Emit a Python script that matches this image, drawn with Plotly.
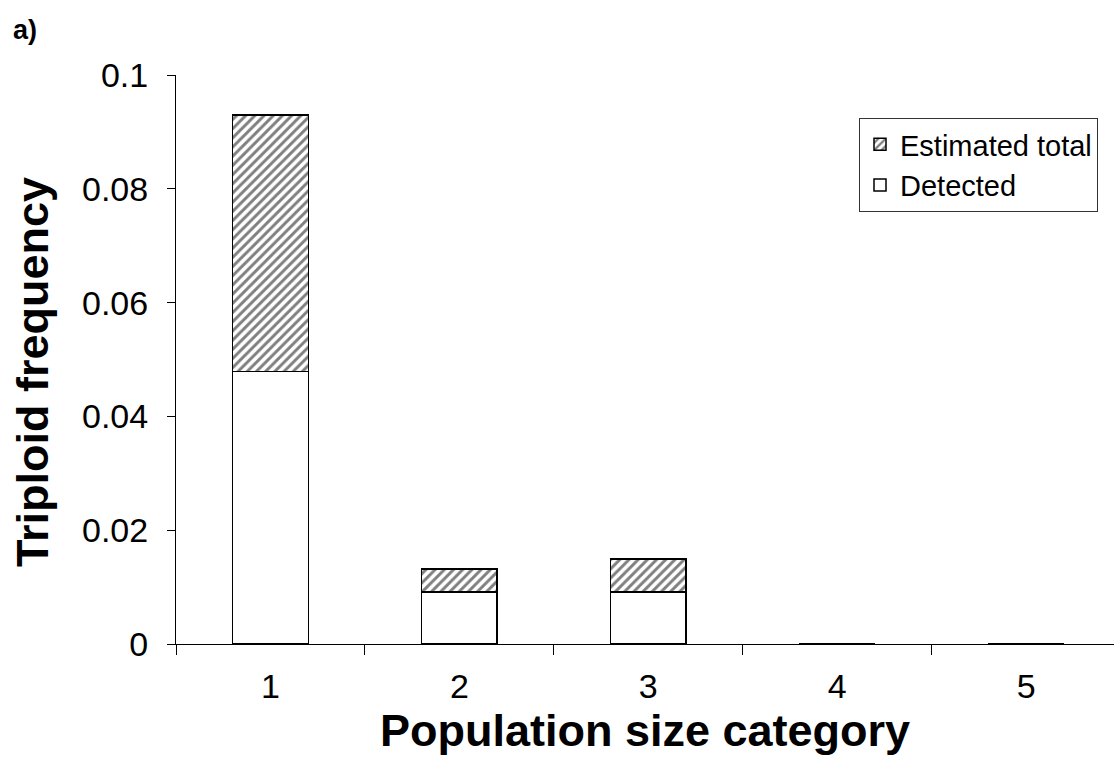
import plotly.graph_objects as go

categories = ["1", "2", "3", "4", "5"]
detected = [0.0479, 0.0091, 0.0091, 0.0, 0.0]
estimated_total = [0.093, 0.0132, 0.0149, 0.0, 0.0]
y_ticks = [0, 0.02, 0.04, 0.06, 0.08, 0.1]
y_tick_text = ["0", "0.02", "0.04", "0.06", "0.08", "0.1"]

extra = [t - d for t, d in zip(estimated_total, detected)]

FONT = "Liberation Sans, Arial, Helvetica, sans-serif"

# plot area: x 176..1114 px, y 75..644 px
L, T, W, H = 176, 75, 938, 569


def px(xp):
    return (xp - L) / W


def py(yp):
    return (T + H - yp) / H


fig = go.Figure()
fig.add_trace(go.Bar(
    x=categories, y=detected, name="Detected", width=0.4,
    marker=dict(color="white", line=dict(color="black", width=1.5)),
))
fig.add_trace(go.Bar(
    x=categories, y=extra, name="Estimated total", width=0.4,
    marker=dict(color="white", line=dict(color="black", width=1.5),
                pattern=dict(shape="/", fgcolor="black", bgcolor="white",
                             size=6.5, solidity=0.45)),
))

fig.update_layout(
    barmode="stack",
    width=1114, height=770,
    margin=dict(l=L, r=0, t=T, b=770 - T - H),
    paper_bgcolor="white", plot_bgcolor="white",
    font=dict(family=FONT, color="black"),
    showlegend=True,
    legend=dict(
        x=px(1098), y=py(118), xanchor="right", yanchor="top",
        traceorder="reversed",
        bordercolor="#333", borderwidth=1, bgcolor="white",
        font=dict(size=29, family=FONT, color="black"),
    ),
    xaxis=dict(
        type="category", range=[-0.5, 4.465],
        showline=True, linecolor="black", linewidth=1,
        ticks="outside", tickson="boundaries", ticklen=10, tickcolor="black",
        tickfont=dict(size=34), ticklabelstandoff=12,
        showgrid=False, zeroline=False,
        title=dict(text="<b>Population size category</b>",
                   font=dict(size=45), standoff=8),
    ),
    yaxis=dict(
        range=[0, 0.1], tickvals=y_ticks, ticktext=y_tick_text,
        showline=True, linecolor="black", linewidth=1,
        ticks="outside", ticklen=8, tickcolor="black",
        tickfont=dict(size=34), ticklabelstandoff=12,
        showgrid=False, zeroline=False,
    ),
    annotations=[
        dict(text="<b>a)</b>", xref="paper", yref="paper",
             x=px(11), y=py(30), xanchor="left", yanchor="middle",
             showarrow=False, font=dict(size=27, family=FONT, color="black")),
        dict(text="<b>Triploid frequency</b>", xref="paper", yref="paper",
             x=px(32), y=py(372), xanchor="center", yanchor="middle",
             textangle=-90, showarrow=False,
             font=dict(size=45, family=FONT, color="black")),
    ],
)

fig.write_html("out.html")
